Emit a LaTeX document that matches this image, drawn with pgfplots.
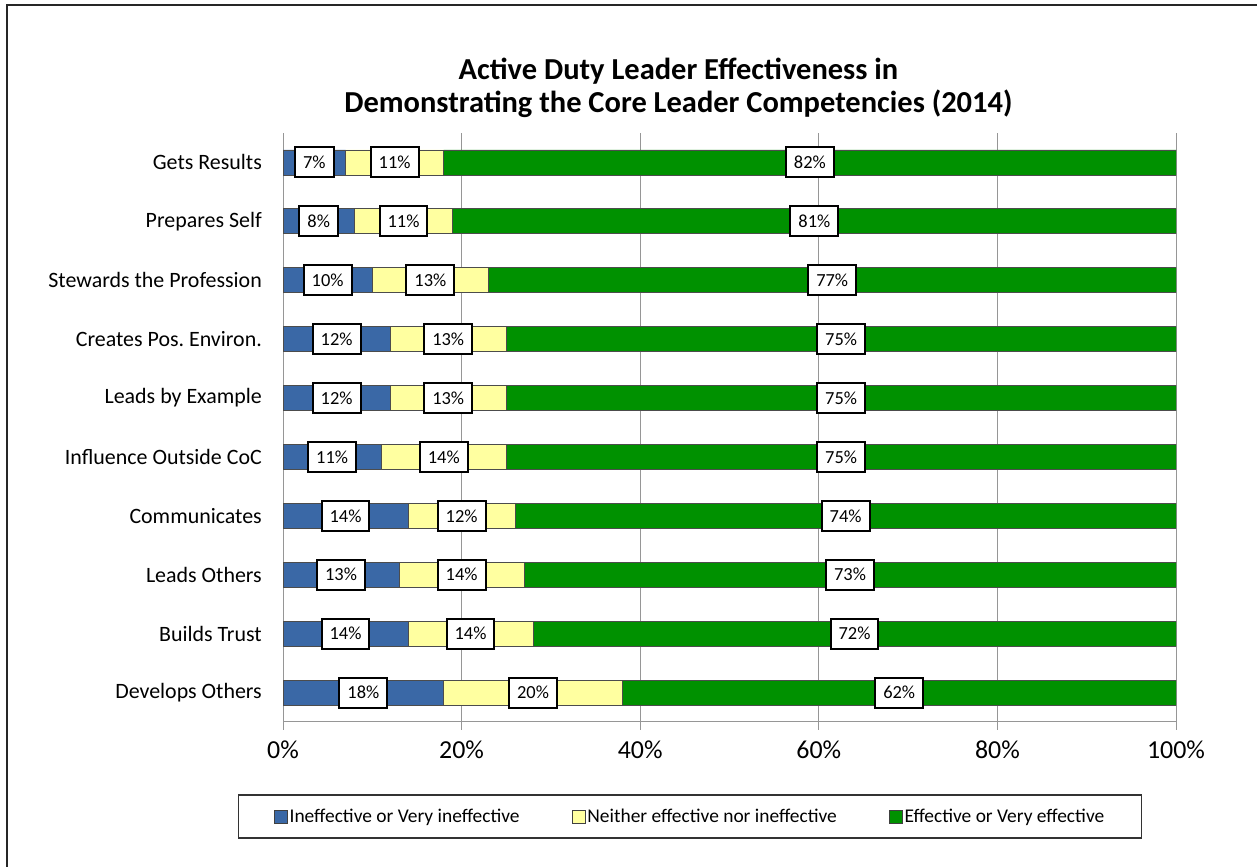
\documentclass[border=0pt]{standalone}
\usepackage{pgfplots}
\pgfplotsset{compat=1.18}
\usepackage{pgfplotstable}
\usepackage{fontspec}
\setmainfont{Carlito}
\frenchspacing
\definecolor{cblue}{RGB}{58,104,166}
\definecolor{cyellow}{RGB}{255,255,160}
\definecolor{cgreen}{RGB}{0,145,0}
\definecolor{cgrid}{RGB}{150,150,150}
% y: 9 = Gets Results (top) ... 0 = Develops Others (bottom)
\pgfplotstableread{
y a b c
9 7 11 82
8 8 11 81
7 10 13 77
6 12 13 75
5 12 13 75
4 11 14 75
3 14 12 74
2 13 14 73
1 14 14 72
0 18 20 62
}\bars
% label centres within each segment
\pgfplotstableread{
y ca a cb b cc c
9 3.5 7 12.5 11 59 82
8 4 8 13.5 11 59.5 81
7 5 10 16.5 13 61.5 77
6 6 12 18.5 13 62.5 75
5 6 12 18.5 13 62.5 75
4 5.5 11 18 14 62.5 75
3 7 14 20 12 63 74
2 6.5 13 20 14 63.5 73
1 7 14 21 14 64 72
0 9 18 28 20 69 62
}\labs
\begin{document}
\begin{tikzpicture}[x=1bp,y=1bp]
\path[use as bounding box] (0,0) rectangle (1257,867);
\draw[line width=2.5bp, black!85] (7,-5) -- (7,862) -- (1265,862);
\node[align=center, font=\fontsize{30.6}{33}\selectfont\bfseries] at (678.5,779)
  {Active Duty Leader Effectiveness in\\Demonstrating the Core Leader Competencies (2014)};
\begin{axis}[
  at={(283bp,145bp)}, anchor=south west,
  scale only axis, width=893bp, height=589bp,
  xbar stacked, bar width=25bp,
  xmin=0, xmax=100, ymin=-0.5, ymax=9.5,
  axis lines*=left,
  axis line style={cgrid, line width=1bp},
  xmajorgrids, major grid style={cgrid, line width=1bp},
  xtick={0,20,40,60,80,100},
  xticklabel={\pgfmathprintnumber{\tick}\%},
  /pgf/number format/assume math mode=true,
  tick align=outside, major tick length=8bp,
  xtick style={cgrid, line width=1bp},
  ytick style={draw=none},
  ytick={0,...,9},
  yticklabels={Develops Others, Builds Trust, Leads Others, Communicates, Influence Outside CoC, Leads by Example, Creates Pos.\ Environ., Stewards the Profession, Prepares Self, Gets Results},
  yticklabel style={font=\fontsize{22}{24}\selectfont, anchor=east, inner sep=0pt, xshift=-13bp},
  xticklabel style={font=\fontsize{26}{28}\selectfont, anchor=base, inner sep=0pt, yshift=-29bp},
  legend columns=3,
  legend style={at={(0.4558,-0.1604)}, anchor=center, draw=black!80, line width=1.2bp,
    font=\fontsize{19.5}{22}\selectfont, inner xsep=36bp, inner ysep=14bp,
    nodes={inner xsep=1.5bp, inner ysep=0bp},
    /tikz/every even column/.append style={column sep=51bp}},
  legend image code/.code={\draw[#1, line width=0.8bp, draw=black!75] (0bp,-6.5bp) rectangle (13bp,6.5bp);},
]
\addplot[fill=cblue, draw=black!70, line width=0.8bp] table[x=a, y=y] {\bars};
\addlegendentry{Ineffective or Very ineffective}
\addplot[fill=cyellow, draw=black!70, line width=0.8bp] table[x=b, y=y] {\bars};
\addlegendentry{Neither effective nor ineffective}
\addplot[fill=cgreen, draw=black!70, line width=0.8bp] table[x=c, y=y] {\bars};
\addlegendentry{Effective or Very effective}
\end{axis}
\begin{axis}[
  at={(283bp,145bp)}, anchor=south west,
  scale only axis, width=893bp, height=589bp,
  xmin=0, xmax=100, ymin=-0.5, ymax=9.5,
  hide axis, clip=false,
  /pgf/number format/assume math mode=true,
  nodes near coords={\pgfmathprintnumber{\pgfplotspointmeta}\%},
  point meta=explicit,
  every node near coord/.style={anchor=center, fill=white, draw=black, line width=2bp,
    inner xsep=8bp, inner ysep=0bp, minimum height=30bp, font=\fontsize{18.5}{20}\selectfont},
]
\addplot[only marks, mark=*, mark size=0pt, mark options={draw=none, fill=none}] table[x=ca, y=y, meta=a] {\labs};
\addplot[only marks, mark=*, mark size=0pt, mark options={draw=none, fill=none}] table[x=cb, y=y, meta=b] {\labs};
\addplot[only marks, mark=*, mark size=0pt, mark options={draw=none, fill=none}] table[x=cc, y=y, meta=c] {\labs};
\end{axis}
\end{tikzpicture}
\end{document}
